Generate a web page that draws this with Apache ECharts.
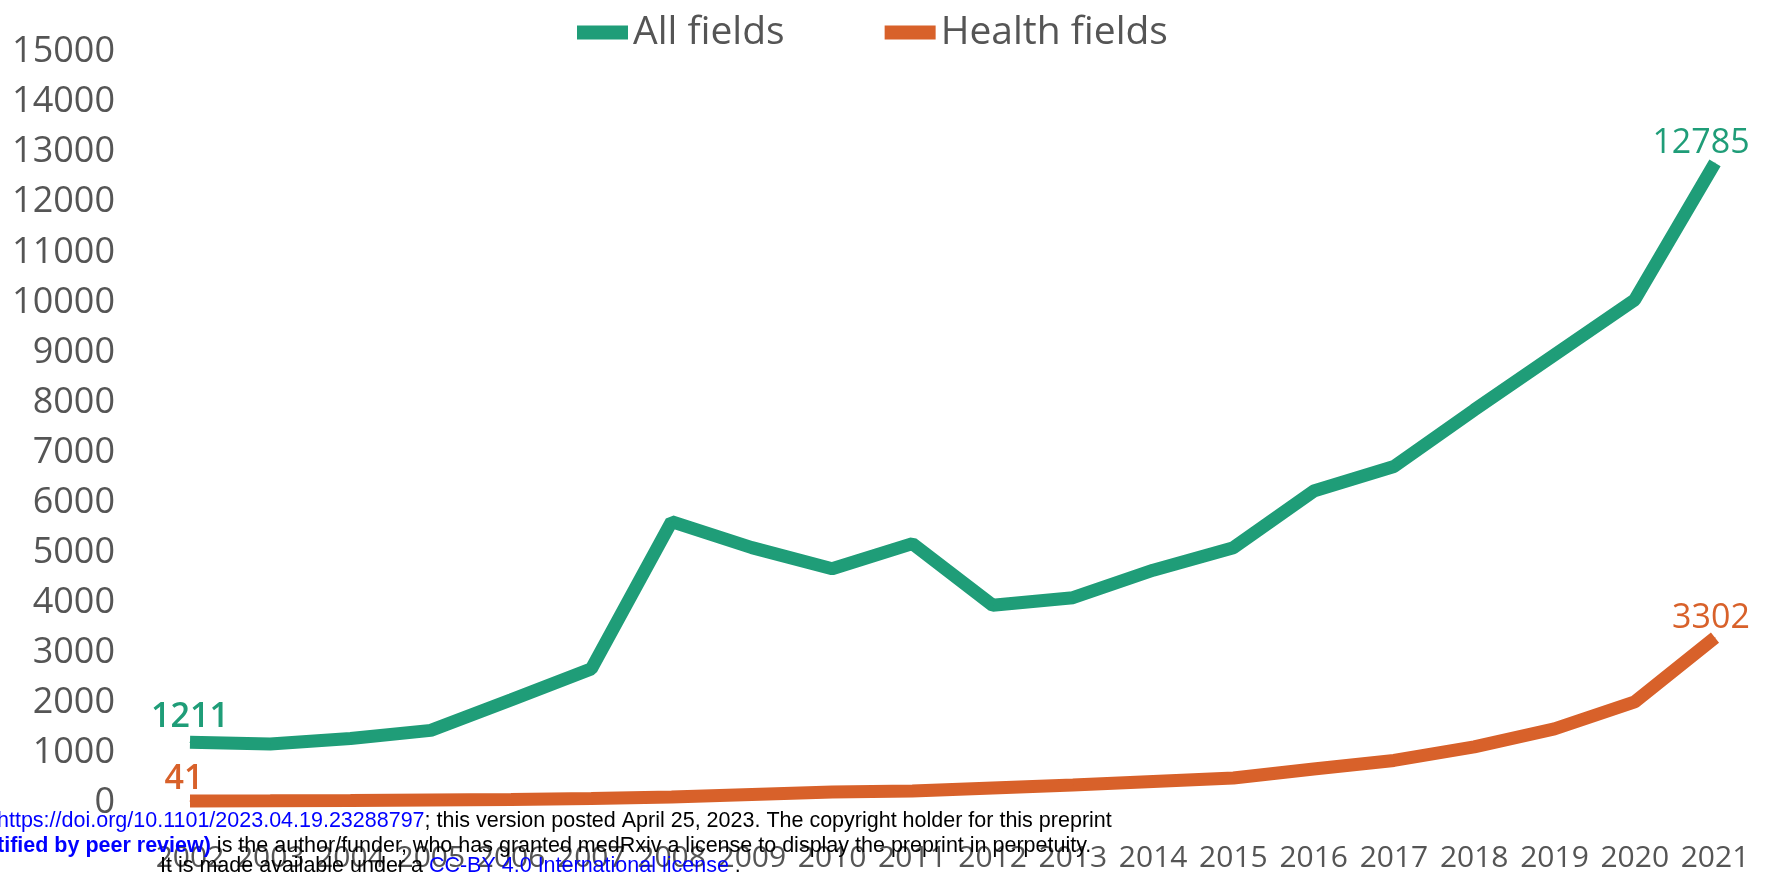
<!DOCTYPE html>
<html>
<head>
<meta charset="utf-8">
<script src="https://cdn.jsdelivr.net/npm/echarts@6/dist/echarts.min.js"></script>
<style>
  html, body { margin: 0; padding: 0; background: #fff; }
  #chart { width: 1775px; height: 881px; }
</style>
</head>
<body>
<div id="chart"></div>
<script>
// data
var years = ['2002', '2003', '2004', '2005', '2006', '2007', '2008', '2009', '2010', '2011',
             '2012', '2013', '2014', '2015', '2016', '2017', '2018', '2019', '2020', '2021'];
var allFields = [1211, 1180, 1290, 1450, 2060, 2680, 5620, 5100, 4680, 5180,
                 3950, 4100, 4650, 5100, 6230, 6720, 7850, 8950, 10050, 12785];
var healthFields = [41, 45, 50, 60, 70, 90, 120, 170, 220, 240,
                    300, 360, 430, 500, 680, 850, 1120, 1480, 2020, 3302];
var seriesNames = ['All fields', 'Health fields'];

var green = '#1f9d78';
var orange = '#d8612a';

// only first and last points get a value label
function withEndLabels(values, color, firstOffset, lastOffset) {
  var last = values.length - 1;
  return values.map(function (v, i) {
    if (i === 0) {
      return { value: v, label: { show: true, color: color, fontWeight: 600, offset: firstOffset } };
    }
    if (i === last) {
      return { value: v, label: { show: true, color: color, fontWeight: 'normal', offset: lastOffset } };
    }
    return v;
  });
}

var myChart = echarts.init(document.getElementById('chart'));
var option = {
  animation: false,
  legend: {
    data: seriesNames,
    left: 572,
    top: 8,
    icon: 'rect',
    itemWidth: 51,
    itemHeight: 14,
    itemGap: 100,
    textStyle: { fontFamily: 'Open Sans', fontSize: 39, color: '#555' }
  },
  grid: {
    left: 190,
    right: 60,
    top: 52,
    bottom: 78
  },
  xAxis: {
    type: 'category',
    data: years,
    boundaryGap: false,
    axisLine: { show: false },
    axisTick: { show: false },
    axisLabel: {
      interval: 0,
      margin: 40,
      fontFamily: 'Open Sans',
      fontSize: 30,
      color: '#555'
    }
  },
  yAxis: {
    type: 'value',
    min: 0,
    max: 15000,
    interval: 1000,
    axisLine: { show: false },
    axisTick: { show: false },
    splitLine: { show: false },
    axisLabel: {
      margin: 75,
      fontFamily: 'Open Sans',
      fontSize: 36,
      color: '#555',
      formatter: function (v) { return String(v); }
    }
  },
  series: [
    {
      name: seriesNames[0],
      type: 'line',
      color: green,
      symbol: 'circle',
      symbolSize: 1,
      lineStyle: { width: 13, color: green, cap: 'butt' },
      label: {
        position: 'top',
        distance: 8,
        fontFamily: 'Open Sans',
        fontSize: 34
      },
      data: withEndLabels(allFields, green, [0, 0], [-14, 6])
    },
    {
      name: seriesNames[1],
      type: 'line',
      color: orange,
      symbol: 'circle',
      symbolSize: 1,
      lineStyle: { width: 13, color: orange, cap: 'butt' },
      label: {
        position: 'top',
        distance: 4,
        fontFamily: 'Open Sans',
        fontSize: 34
      },
      data: withEndLabels(healthFields, orange, [-6, 0], [-4, 2])
    }
  ],
  // medRxiv preprint notice printed over the bottom of the figure
  graphic: [
    {
      type: 'text',
      left: -3,
      top: 810,
      z: 100,
      style: {
        text: '{b|https://doi.org/10.1101/2023.04.19.23288797}{k|; this version posted April 25, 2023. The copyright holder for this preprint}',
        rich: {
          b: { fill: '#0000ff', fontFamily: 'Liberation Sans', fontSize: 21.5 },
          k: { fill: '#000', fontFamily: 'Liberation Sans', fontSize: 21.5 }
        }
      }
    },
    {
      type: 'text',
      left: -3,
      top: 835,
      z: 100,
      style: {
        text: '{b|tified by peer review)}{k| is the author/funder, who has granted medRxiv a license to display the preprint in perpetuity.}',
        rich: {
          b: { fill: '#0000ff', fontFamily: 'Liberation Sans', fontSize: 21.5, fontWeight: 'bold' },
          k: { fill: '#000', fontFamily: 'Liberation Sans', fontSize: 21.5 }
        }
      }
    },
    {
      type: 'text',
      left: 160,
      top: 855,
      z: 100,
      style: {
        text: '{k|It is made available under a }{b|CC-BY 4.0 International license}{k| .}',
        rich: {
          b: { fill: '#0000ff', fontFamily: 'Liberation Sans', fontSize: 21.5 },
          k: { fill: '#000', fontFamily: 'Liberation Sans', fontSize: 21.5 }
        }
      }
    }
  ]
};
myChart.setOption(option);
</script>
</body>
</html>
